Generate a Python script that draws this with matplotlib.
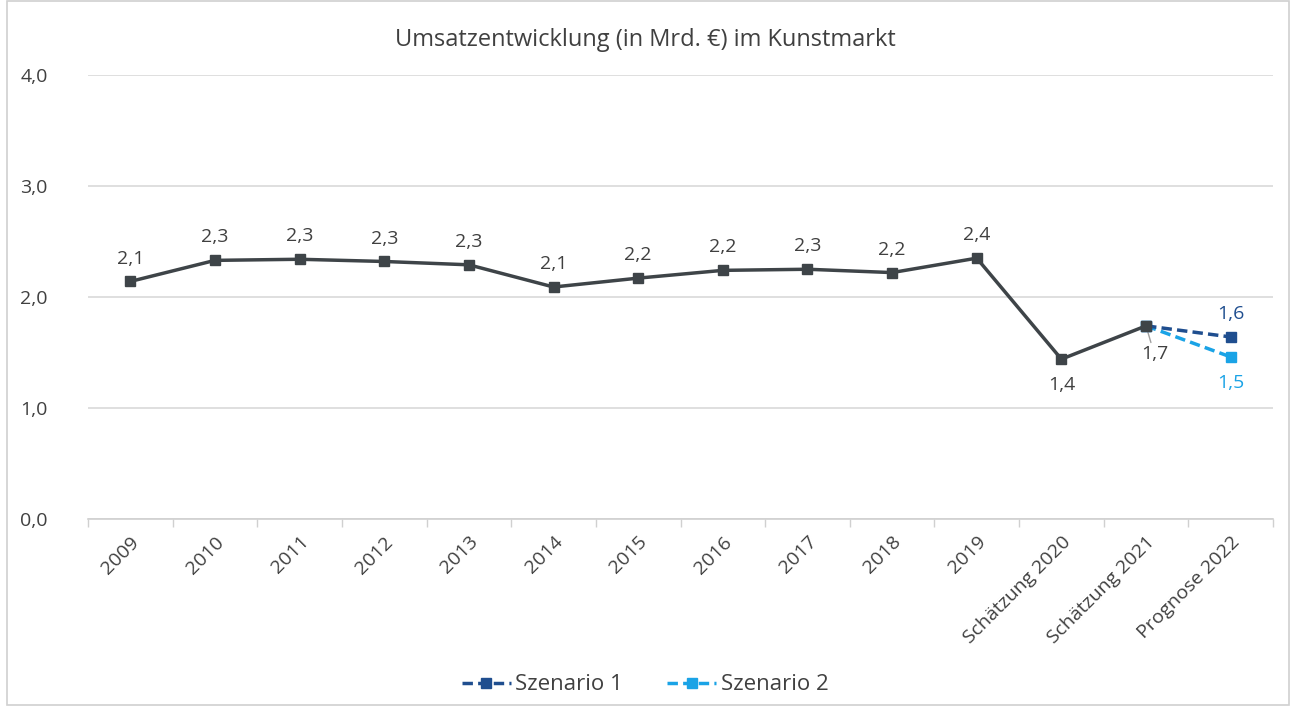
import matplotlib
matplotlib.use("Agg")
import matplotlib.pyplot as plt
from matplotlib.patches import Rectangle
from matplotlib.ticker import FixedLocator

plt.rcParams['font.family'] = ['Open Sans', 'DejaVu Sans']

categories = ["2009", "2010", "2011", "2012", "2013", "2014", "2015", "2016", "2017",
              "2018", "2019", "Schätzung 2020", "Schätzung 2021", "Prognose 2022"]
umsatz = [2.14, 2.33, 2.34, 2.32, 2.29, 2.09, 2.17, 2.24, 2.25, 2.22, 2.35, 1.44, 1.74]
szenario1 = [1.74, 1.64]
szenario2 = [1.74, 1.46]
labels_main = ["2,1", "2,3", "2,3", "2,3", "2,3", "2,1", "2,2", "2,2", "2,3", "2,2", "2,4", "1,4", "1,7"]
labels_s1 = ["", "1,6"]
labels_s2 = ["", "1,5"]
yticks = [0.0, 1.0, 2.0, 3.0, 4.0]

c_main = "#3e4448"
c_s1 = "#1f4e8f"
c_s2 = "#1aa3e6"
c_text = "#404040"
fs = 14

fig = plt.figure(figsize=(12.9, 7.07), dpi=100)
fig.patches.append(Rectangle((7/1290, 0.003), 1 - 7/1290 - 0.001, 0.996, transform=fig.transFigure,
                             fill=False, edgecolor="#d0d0d0", linewidth=1.2))
ax = fig.add_axes([88/1290, 1 - 519/707, (1273 - 88)/1290, (519 - 75)/707])

x_main = list(range(len(umsatz)))
x_sc = [len(umsatz) - 1, len(umsatz)]

ax.plot(x_sc, szenario2, color=c_s2, linestyle=(0, (3, 1.5)), linewidth=2.5, marker="s",
        markersize=7, label="Szenario 2", zorder=3)
ax.plot(x_sc, szenario1, color=c_s1, linestyle=(0, (3, 1.5)), linewidth=2.5, marker="s",
        markersize=7, label="Szenario 1", zorder=4)
ax.plot(x_main, umsatz, color=c_main, linewidth=2.5, marker="s", markersize=7, zorder=5)

for i, (v, t) in enumerate(zip(umsatz, labels_main)):
    if i == len(umsatz) - 2:
        ax.annotate(t, (i, v), xytext=(0, -12), textcoords="offset points",
                    ha="center", va="top", fontsize=fs, color=c_text)
    elif i == len(umsatz) - 1:
        ax.annotate(t, (i, v), xytext=(6, -14), textcoords="offset points",
                    ha="center", va="top", fontsize=fs, color=c_text,
                    arrowprops=dict(arrowstyle="-", color="#a0a0a0", lw=1,
                                    shrinkA=0, shrinkB=2))
    else:
        ax.annotate(t, (i, v), xytext=(0, 10), textcoords="offset points",
                    ha="center", va="bottom", fontsize=fs, color=c_text)

ax.annotate(labels_s1[1], (x_sc[1], szenario1[1]), xytext=(0, 10), textcoords="offset points",
            ha="center", va="bottom", fontsize=fs, color=c_s1)
ax.annotate(labels_s2[1], (x_sc[1], szenario2[1]), xytext=(0, -12), textcoords="offset points",
            ha="center", va="top", fontsize=fs, color=c_s2)

ax.set_xlim(-0.5, len(categories) - 0.5)
ax.set_ylim(0, 4.0)
ax.set_yticks(yticks)
ax.set_yticklabels([f"{v:.1f}".replace(".", ",") for v in yticks], fontsize=fs, color=c_text)
ax.set_xticks(range(len(categories)))
ax.set_xticklabels(categories, rotation=45, ha="right", rotation_mode="anchor",
                   fontsize=fs, color=c_text)
ax.tick_params(axis="x", length=0, pad=10)
ax.tick_params(axis="y", length=0, pad=29)
ax.xaxis.set_minor_locator(FixedLocator([i - 0.5 for i in range(len(categories) + 1)]))
ax.tick_params(axis="x", which="minor", length=6, color="#d0d0d0", width=1)
ax.grid(axis="y", color="#d9d9d9", linewidth=1.2)
ax.set_axisbelow(True)
for s in ["top", "right", "left"]:
    ax.spines[s].set_visible(False)
ax.spines["bottom"].set_color("#d0d0d0")
ax.spines["bottom"].set_linewidth(1.2)

fig.text(0.5, 1 - 40/707, "Umsatzentwicklung (in Mrd. €) im Kunstmarkt", ha="center", va="center",
         fontsize=17, color=c_text)

handles, lbls = ax.get_legend_handles_labels()
order = [1, 0]
fig.legend([handles[i] for i in order], [lbls[i] for i in order], loc="center",
           bbox_to_anchor=(0.5, 1 - 685/707), ncol=2, frameon=False, fontsize=16,
           labelcolor=c_text, handlelength=2.2, handletextpad=0.2, columnspacing=2.0)

fig.savefig("out.png", dpi=100)
